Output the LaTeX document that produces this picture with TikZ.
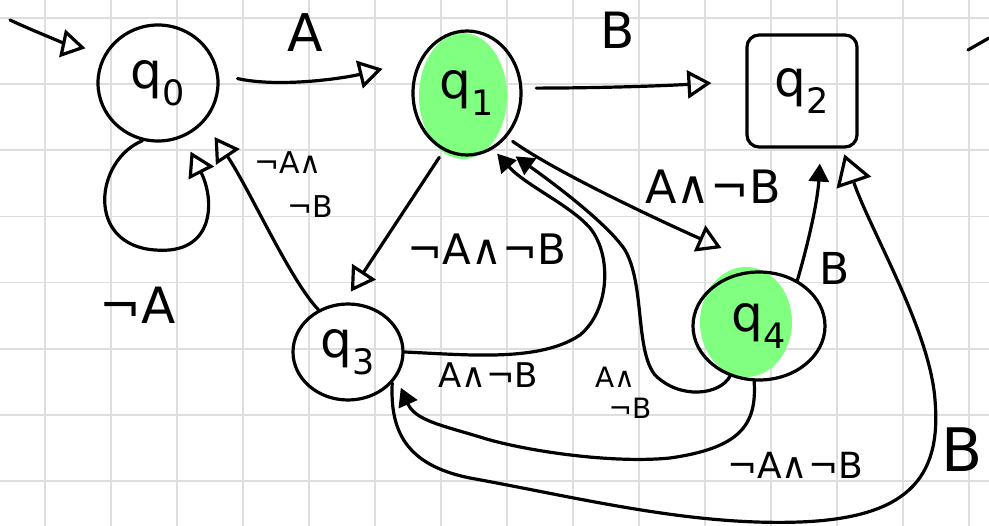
\documentclass[tikz,border=0pt]{standalone}
\usepackage{fontspec}
\setmainfont{DejaVu Sans}
\usetikzlibrary{arrows.meta,shapes.geometric,calc}
\definecolor{hlgreen}{RGB}{128,255,128}
\definecolor{gridgray}{RGB}{222,222,222}
\newcommand{\lblsize}[1]{\fontsize{#1}{#1}\selectfont}
\begin{document}
\begin{tikzpicture}[x=1pt,y=-1pt,
  pen/.style={line width=3.2pt, line cap=round, line join=round},
  state/.style={ellipse, draw, line width=3.2pt, inner sep=0pt, font=\lblsize{50}},
  oa/.style={-{Triangle[open,length=24pt,width=28pt]}},
  bigoa/.style={-{Triangle[open,length=30pt,width=36pt]}},
  fa/.style={-{Triangle[length=18pt,width=20pt]}},
  lab/.style={inner sep=0pt}]
\useasboundingbox (0,0) rectangle (989,526);
\fill[white] (0,0) rectangle (989,526);
% grid
\foreach \i in {0,...,14} \draw[gridgray, line width=1.8pt] ({45+66*\i},0) -- ({45+66*\i},526);
\foreach \j in {0,...,7} \draw[gridgray, line width=1.8pt] (0,{18+66.15*\j}) -- (989,{18+66.15*\j});
% green highlights
\fill[hlgreen] (463,96) ellipse [x radius=44, y radius=63];
\fill[hlgreen] (746,322) ellipse [x radius=46, y radius=55];
% states
\node[state, minimum width=120pt, minimum height=116pt] (q0) at (158,83) {q\textsubscript{0}};
\node[state, minimum width=108pt, minimum height=124pt] (q1) at (467,93) {q\textsubscript{1}};
\node[draw, rectangle, rounded corners=12pt, line width=3.2pt, inner sep=0pt,
      minimum width=110pt, minimum height=112pt, font=\lblsize{50}] (q2) at (802,91) {q\textsubscript{2}};
\node[state, minimum width=110pt, minimum height=96pt] (q3) at (348,352) {q\textsubscript{3}};
\node[state, minimum width=132pt, minimum height=108pt] (q4) at (759,326) {q\textsubscript{4}};
% edges
\coordinate (init) at (10,20);
\draw[pen, oa, shorten >=20pt] (init) .. controls (40,34) and (70,45) .. (q0.150);
\draw[pen, oa, shorten >=16pt] (q0.-105) .. controls (95,160) and (85,245) .. (155,250)
   .. controls (215,255) and (215,200) .. (q0.-65);
\draw[pen, oa, shorten <=19pt, shorten >=38pt] (q0.8) .. controls (280,88) and (345,78) .. (q1.145);
\draw[pen, oa, shorten <=14pt, shorten >=34pt] (q1.5) .. controls (600,88) and (660,86) .. (q2.170);
\draw[pen, oa, shorten <=8pt, shorten >=13pt] (q1.-112) -- (q3.95);
\draw[pen, oa, shorten >=18pt] (q3.125) .. controls (290,280) and (250,190) .. (q0.-40);
\draw[pen, fa, shorten >=6pt] (q3.east) .. controls (470,355) and (540,362) .. (580,335)
   .. controls (610,310) and (612,255) .. (590,228)
   .. controls (570,205) and (525,185) .. (q1.-65);
\draw[pen, oa, shorten <=7pt, shorten >=60pt] (q1.-48) .. controls (560,175) and (676,228) .. (q4.72);
\draw[pen, fa, shorten >=20pt] (q4.-120) .. controls (720,395) and (680,400) .. (655,375)
   .. controls (635,350) and (645,285) .. (625,250)
   .. controls (605,220) and (539,173) .. (q1.-58);
\draw[pen, fa, shorten >=15pt] (q4.50) .. controls (812,230) and (818,195) .. (q2.-72);
\draw[pen, fa, shorten >=11pt] (q4.-95) .. controls (757,425) and (740,448) .. (670,458)
   .. controls (610,464) and (520,450) .. (480,437)
   .. controls (440,425) and (415,420) .. (q3.-28);
\draw[pen, bigoa, shorten >=6pt] (q3.-35) .. controls (390,430) and (405,465) .. (470,478)
   .. controls (580,498) and (690,526) .. (800,522)
   .. controls (905,518) and (942,480) .. (935,400)
   .. controls (930,330) and (870,230) .. (q2.-55);
% stray stroke top right
\draw[pen] (968,50) -- (989,38);
% labels
\node[lab, font=\lblsize{52}] (lA) at (305,33) {A};
\node[lab, font=\lblsize{50}] (lB) at (618,30) {B};
\node[lab, font=\lblsize{50}] (lnA) at (138,305) {¬A};
\node[lab, font=\lblsize{30}] (l30a) at (288,163) {¬A∧};
\node[lab, font=\lblsize{30}] (l30b) at (310,207) {¬B};
\node[lab, font=\lblsize{42}] (l13) at (487,249) {¬A∧¬B};
\node[lab, font=\lblsize{46}] (l14) at (713,187) {A∧¬B};
\node[lab, font=\lblsize{34}] (l31) at (488,375) {A∧¬B};
\node[lab, font=\lblsize{28}] (l41a) at (615,377) {A∧};
\node[lab, font=\lblsize{28}] (l41b) at (630,408) {¬B};
\node[lab, font=\lblsize{44}] (l42) at (835,268) {B};
\node[lab, font=\lblsize{36}] (l43) at (795,465) {¬A∧¬B};
\node[lab, font=\lblsize{60}] (l32) at (962,450) {B};
\end{tikzpicture}
\end{document}
